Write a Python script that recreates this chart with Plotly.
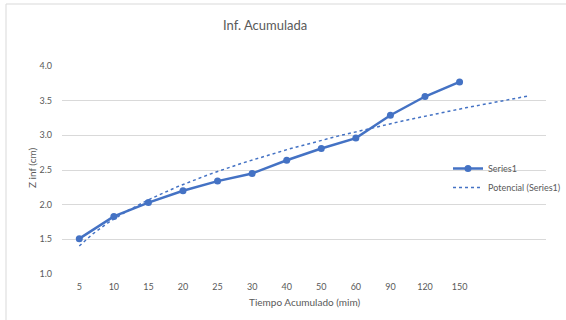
import numpy as np
import plotly.graph_objects as go

# Cumulative infiltration vs. elapsed time (categorical axis)
tiempo_labels = ["5", "10", "15", "20", "25", "30", "40", "50", "60", "90", "120", "150"]
z_inf = [1.51, 1.83, 2.03, 2.20, 2.34, 2.45, 2.64, 2.81, 2.96, 3.29, 3.56, 3.77]
y_ticks = [1.0, 1.5, 2.0, 2.5, 3.0, 3.5, 4.0]
forward_periods = 2

BLUE = "#4472C4"
GRAY_TXT = "#595959"
GRID = "#D9D9D9"
FONT = "Lato"

idx = np.arange(1, len(z_inf) + 1)

# Power trendline fitted on the category index, extended two periods forward
b, ln_a = np.polyfit(np.log(idx), np.log(z_inf), 1)
a = np.exp(ln_a)
xt = np.linspace(1, len(z_inf) + forward_periods, 300)
yt = a * xt ** b

fig = go.Figure()
fig.add_trace(go.Scatter(
    x=idx, y=z_inf, mode="lines+markers", name="Series1",
    line=dict(color=BLUE, width=2.5),
    marker=dict(color=BLUE, size=7, symbol="circle"),
))
fig.add_trace(go.Scatter(
    x=xt, y=yt, mode="lines", name="Potencial (Series1)",
    line=dict(color=BLUE, width=1.5, dash="dot"),
))

W, H = 566, 320
ml, mr, mt, mb = 62, 20, 66, 46
pw, ph = W - ml - mr, H - mt - mb

def px_x(p):
    return (p - ml) / pw

def px_y(p):
    return 1 - (p - mt) / ph

fig.update_layout(
    width=W, height=H,
    margin=dict(l=ml, r=mr, t=mt, b=mb, autoexpand=False),
    paper_bgcolor="white", plot_bgcolor="white",
    font=dict(family=FONT, size=9, color=GRAY_TXT),
    showlegend=True,
    legend=dict(
        xref="container", yref="container",
        x=448 / W, y=1 - 154 / H, xanchor="left", yanchor="top",
        bgcolor="rgba(0,0,0,0)", borderwidth=0,
        font=dict(family=FONT, size=9, color=GRAY_TXT),
        itemwidth=30, tracegroupgap=2,
    ),
    xaxis=dict(
        range=[0.5, len(z_inf) + forward_periods + 0.5],
        tickmode="array", tickvals=list(idx), ticktext=tiempo_labels,
        showgrid=False, zeroline=False, showline=False,
        ticks="", ticklabelstandoff=6,
        tickfont=dict(family=FONT, size=9, color=GRAY_TXT),
    ),
    yaxis=dict(
        range=[1.0, 4.0], tickvals=y_ticks,
        ticktext=[f"{v:.1f}" for v in y_ticks],
        showgrid=True, gridcolor=GRID, gridwidth=1,
        zeroline=False, showline=False, ticks="", ticklabelstandoff=9,
        tickfont=dict(family=FONT, size=9, color=GRAY_TXT),
    ),
    shapes=[
        dict(type="rect", xref="paper", yref="paper",
             x0=px_x(6), x1=px_x(575), y0=px_y(330), y1=px_y(4),
             line=dict(color=GRID, width=1), fillcolor="rgba(0,0,0,0)",
             layer="below"),
    ],
    annotations=[
        dict(text="Inf. Acumulada", xref="paper", yref="paper",
             x=px_x(265), y=px_y(25), xanchor="center", yanchor="middle",
             showarrow=False, font=dict(family=FONT, size=13, color=GRAY_TXT)),
        dict(text="Tiempo Acumulado (mim)", xref="paper", yref="paper",
             x=px_x(304), y=px_y(302), xanchor="center", yanchor="middle",
             showarrow=False, font=dict(family=FONT, size=10, color=GRAY_TXT)),
        dict(text="Z inf (cm)", xref="paper", yref="paper",
             x=px_x(32), y=px_y(168), xanchor="center", yanchor="middle",
             textangle=-90, showarrow=False,
             font=dict(family=FONT, size=10, color=GRAY_TXT)),
    ],
)

fig.write_html("out.html")
